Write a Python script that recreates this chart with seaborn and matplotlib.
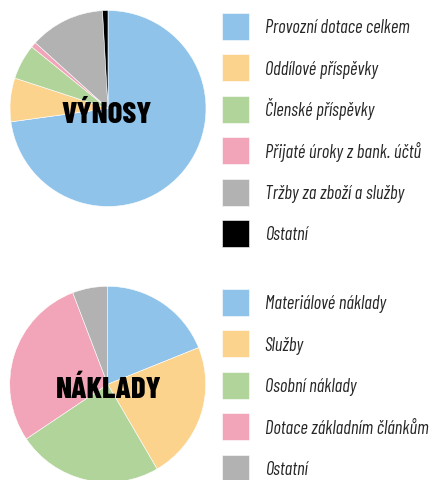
import matplotlib
matplotlib.use("Agg")
import matplotlib.pyplot as plt
import seaborn as sns

# Data
vynosy_labels = ["Provozní dotace celkem", "Oddílové příspěvky", "Členské příspěvky",
                 "Přijaté úroky z bank. účtů", "Tržby za zboží a služby", "Ostatní"]
vynosy_values = [72.9, 7.2, 5.8, 0.9, 12.4, 0.9]
vynosy_colors = ["#8FC3EA", "#FCD38D", "#B0D49A", "#F2A4B8", "#B2B2B2", "#000000"]

naklady_labels = ["Materiálové náklady", "Služby", "Osobní náklady",
                  "Dotace základním článkům", "Ostatní"]
naklady_values = [18.9, 22.7, 24.0, 28.6, 5.8]
naklady_colors = ["#8FC3EA", "#FCD38D", "#B0D49A", "#F2A4B8", "#B2B2B2"]

sns.set_theme(style="white")
plt.rcParams['font.family'] = ['Barlow Condensed', 'DejaVu Sans']

W, H = 438, 481
fig = plt.figure(figsize=(W / 100, H / 100), dpi=100)


def px_axes(cx, cy, r):
    return fig.add_axes([(cx - r) / W, (H - cy - r) / H, 2 * r / W, 2 * r / H])


def draw_pie(ax, values, colors, title, dx, dy):
    wedges, _ = ax.pie(values, colors=colors, startangle=90, counterclock=False,
                       radius=1, wedgeprops=dict(linewidth=0.4, edgecolor="white"))
    ax.set_xlim(-1, 1)
    ax.set_ylim(-1, 1)
    ax.set_aspect("equal")
    ax.axis("off")
    ax.text(dx, dy, title, ha="center", va="baseline", fontsize=22,
            fontweight=800, color="black")
    return wedges


ax1 = px_axes(108, 109.5, 98)
w1 = draw_pie(ax1, vynosy_values, vynosy_colors, "VÝNOSY", -0.01, -0.14)
ax2 = px_axes(107.7, 385.3, 98)
w2 = draw_pie(ax2, naklady_values, naklady_colors, "NÁKLADY", 0.015, -0.133)

# legend: square patches 27 px, rows ~41.4 px apart
fs = 13.3
leg_kw = dict(loc="upper left", frameon=False, borderpad=0, borderaxespad=0,
              handlelength=1.462, handleheight=1.872, handletextpad=0.866,
              labelspacing=0.78, prop=dict(size=fs, style="italic"))
fig.legend(w1, vynosy_labels, bbox_to_anchor=(221.7 / W, 1 - 14 / H), **leg_kw)
fig.legend(w2, naklady_labels, bbox_to_anchor=(221.7 / W, 1 - 290 / H), **leg_kw)

fig.savefig("out.png", dpi=100)
